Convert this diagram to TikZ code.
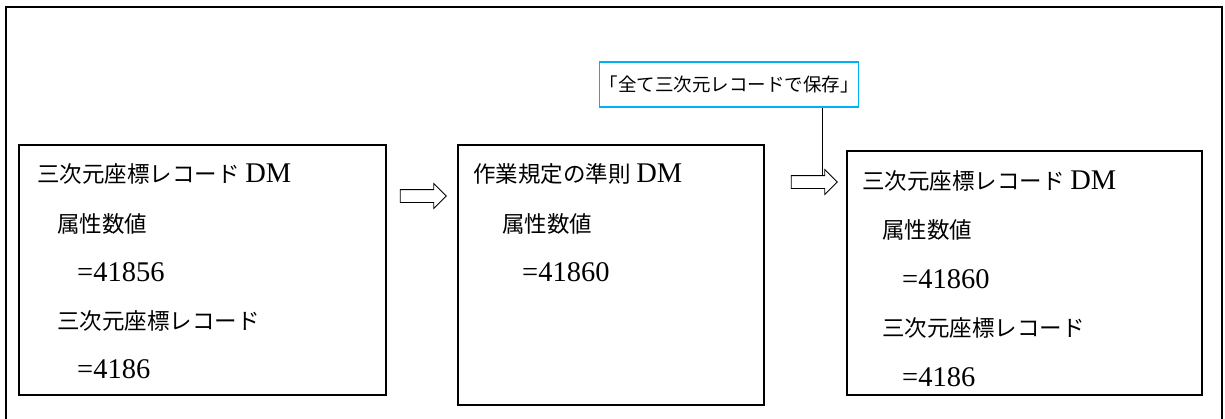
\documentclass[tikz,border=0pt]{standalone}
\usepackage{fontspec}
\setmainfont{Liberation Serif}
\newfontfamily\jp{Noto Sans CJK JP}
\newcommand\latn[1]{{\fontsize{28.5}{31}\selectfont #1}}
\usetikzlibrary{shapes.arrows}
\definecolor{callblue}{HTML}{00B0F0}
\begin{document}
\begin{tikzpicture}[x=1pt,y=1pt,
  box/.style={draw, line width=1.6pt},
  txt/.style={anchor=west, inner sep=0pt, font=\fontsize{22.5}{27}\selectfont},
  blockarrow/.style={draw, line width=0.8pt, single arrow, minimum height=46pt,
    minimum width=24pt, single arrow head extend=6pt, inner sep=6pt, single arrow tip angle=90},
]
\useasboundingbox (0,0) rectangle (1225,-418);
% outer frame (open at bottom)
\draw[line width=1.6pt] (6,-430) -- (6,-7) -- (1222,-7) -- (1222,-430);
% boxes
\draw[box] (19,-145) rectangle (386,-395);
\draw[box] (458,-145) rectangle (764,-405);
\draw[box] (847,-151) rectangle (1202,-395);
% callout
\node[draw=callblue, line width=1.6pt, minimum width=250pt, minimum height=45pt,
  inner sep=0pt, font=\fontsize{18.5}{22}\selectfont] (call) at (729,-84.5) {{\jp 「全て三次元レコードで保存」}};
% arrows
\node[blockarrow] (a1) at (420,-196) {};
\node[blockarrow] (a2) at (811,-182) {};
\coordinate (c2) at (822,-176);
\draw[line width=1pt] (call.south -| c2) -- (c2);
% box1 text
\node[txt] (t11) at (37,-174) {{\jp 三次元座標レコード} \latn{DM}};
\node[txt] (t12) at (57,-224) {\jp 属性数値};
\node[txt] (t13) at (77,-272) {\latn{=41856}};
\node[txt] (t14) at (57,-321) {\jp 三次元座標レコード};
\node[txt] (t15) at (77,-369) {\latn{=4186}};
% box2 text
\node[txt] (t21) at (473,-174) {{\jp 作業規定の準則} \latn{DM}};
\node[txt] (t22) at (502,-224) {\jp 属性数値};
\node[txt] (t23) at (522,-272) {\latn{=41860}};
% box3 text
\node[txt] (t31) at (862,-181) {{\jp 三次元座標レコード} \latn{DM}};
\node[txt] (t32) at (882,-230) {\jp 属性数値};
\node[txt] (t33) at (902,-279) {\latn{=41860}};
\node[txt] (t34) at (882,-328) {\jp 三次元座標レコード};
\node[txt] (t35) at (902,-377) {\latn{=4186}};
\end{tikzpicture}
\end{document}
